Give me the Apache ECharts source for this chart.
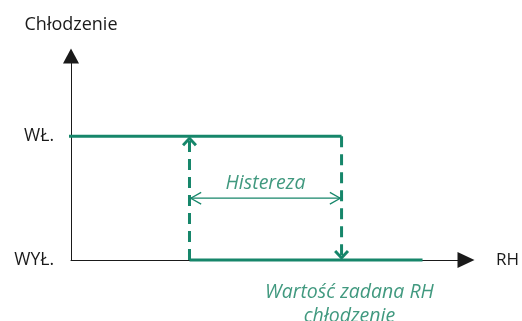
<!DOCTYPE html>
<html>
<head>
<meta charset="utf-8">
<script src="https://cdn.jsdelivr.net/npm/echarts@6/dist/echarts.min.js"></script>
<style>
  body { margin: 0; background: #fff; }
  #chart { width: 522px; height: 321px; }
</style>
</head>
<body>
<div id="chart"></div>
<script>
// stany na osi Y
const levelNames = ['WYŁ.', 'WŁ.'];
const levelValues = [0, 1];

// odcinki wykresu histerezy (x = RH w % długości osi, y = stan)
const onLine = [[-2, 1], [68.5, 1]];
const offLine = [[30, 0], [89, 0]];
const riseLine = [[30, 0], [30, 1]];
const fallLine = [[68.5, 1], [68.5, 0]];
const hystLine = [[30, 0.5], [68.5, 0.5]];

// etykiety
const hystLabel = [[49.25, 0.5]];
const setLabel = [[70.5, 0]];

const green = '#16866a';
const textGreen = '#11805f';
const ink = '#1a1a1a';
const font = '"Open Sans", sans-serif';

const chevThick = 'path://M7,0 L14,7.5 L12,9.5 L7,4 L2,9.5 L0,7.5 Z';
const chevThin = 'path://M6.5,0 L13,11 L11.8,11.6 L6.5,2.4 L1.2,11.6 L0,11 Z';

function withEnds(points, ends) {
  return points.map((p, i) => {
    const e = ends[i];
    return e ? Object.assign({ value: p }, e) : { value: p, symbol: 'none' };
  });
}

let chart = echarts.init(document.getElementById('chart'));

let option = {
  animation: false,
  grid: { left: 71, top: 56, width: 396, height: 204 },
  xAxis: {
    type: 'value',
    min: 0,
    max: 100,
    name: 'RH',
    nameLocation: 'end',
    nameGap: 30,
    nameTextStyle: { fontFamily: font, fontSize: 17, color: ink },
    axisLine: {
      lineStyle: { color: ink, width: 1 },
      symbol: ['none', 'triangle'],
      symbolSize: [16, 17]
    },
    axisTick: { show: false },
    axisLabel: { show: false },
    splitLine: { show: false }
  },
  yAxis: {
    type: 'value',
    min: 0,
    max: 1.65,
    interval: 1,
    name: 'Chłodzenie',
    nameLocation: 'end',
    nameGap: 22,
    nameTextStyle: { fontFamily: font, fontSize: 18, color: ink },
    axisLine: {
      show: true,
      lineStyle: { color: ink, width: 1 },
      symbol: ['none', 'triangle'],
      symbolSize: [16, 15]
    },
    axisTick: { show: false },
    splitLine: { show: false },
    axisLabel: {
      margin: 17,
      fontFamily: font,
      fontSize: 17.5,
      color: ink,
      padding: [0, 0, 8, 0],
      formatter: function (v) {
        let i = levelValues.indexOf(v);
        return i >= 0 ? levelNames[i] : '';
      }
    }
  },
  series: [
    {
      type: 'line', clip: false, symbol: 'none',
      lineStyle: { color: green, width: 3 },
      data: onLine
    },
    {
      type: 'line', clip: false, symbol: 'none',
      lineStyle: { color: green, width: 3 },
      data: offLine
    },
    {
      type: 'line', clip: false,
      lineStyle: { color: green, width: 3, type: [11, 7] },
      itemStyle: { color: green },
      data: withEnds(riseLine, [null, { symbol: chevThick, symbolSize: [15, 10], symbolOffset: [0, 5] }])
    },
    {
      type: 'line', clip: false,
      lineStyle: { color: green, width: 3, type: [11, 7] },
      itemStyle: { color: green },
      data: withEnds(fallLine, [null, { symbol: chevThick, symbolSize: [15, 10], symbolRotate: 180, symbolOffset: [0, -5] }])
    },
    {
      type: 'line', clip: false,
      lineStyle: { color: green, width: 1.2 },
      itemStyle: { color: green },
      data: withEnds(hystLine, [
        { symbol: chevThin, symbolSize: [13, 12], symbolRotate: 90, symbolOffset: [6, 0] },
        { symbol: chevThin, symbolSize: [13, 12], symbolRotate: -90, symbolOffset: [-6, 0] }
      ])
    },
    {
      type: 'scatter', symbolSize: 0, clip: false,
      label: {
        show: true, position: 'top', distance: 5,
        formatter: 'Histereza',
        fontFamily: font, fontStyle: 'italic', fontSize: 19.5, color: textGreen
      },
      data: hystLabel
    },
    {
      type: 'scatter', symbolSize: 0, clip: false,
      label: {
        show: true, position: 'bottom', distance: 20,
        formatter: 'Wartość zadana RH\nchłodzenie',
        lineHeight: 24, align: 'center',
        fontFamily: font, fontStyle: 'italic', fontSize: 19.5, color: textGreen
      },
      data: setLabel
    }
  ]
};

chart.setOption(option);
</script>
</body>
</html>
